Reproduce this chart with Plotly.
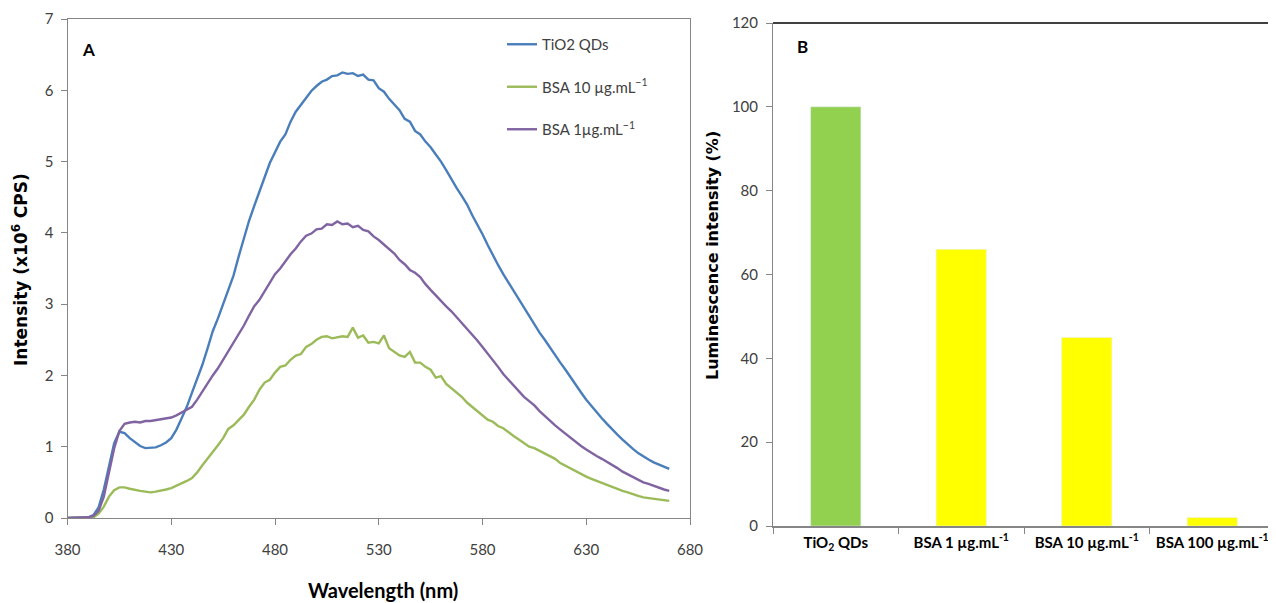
import plotly.graph_objects as go

# ---------------- Data ----------------
# emission spectra sampled every 2.5 nm from 380 to 670 nm
wavelength = [380 + 2.5 * i for i in range(117)]

tio2_qds = [
    0.00, 0.00, 0.00, 0.00, 0.01, 0.04, 0.15, 0.40, 0.75, 1.05,   # 380-402.5
    1.21, 1.19, 1.12, 1.06, 1.01, 0.98, 0.98, 0.99, 1.02, 1.06,   # 405-427.5
    1.12, 1.24, 1.40, 1.56, 1.76, 1.95, 2.15, 2.38, 2.62, 2.80,   # 430-452.5
    3.00, 3.20, 3.40, 3.67, 3.92, 4.17, 4.38, 4.57, 4.78, 4.98,   # 455-477.5
    5.14, 5.28, 5.38, 5.56, 5.70, 5.80, 5.90, 5.99, 6.06, 6.12,   # 480-502.5
    6.15, 6.20, 6.21, 6.25, 6.23, 6.24, 6.20, 6.22, 6.15, 6.14,   # 505-527.5
    6.03, 5.98, 5.88, 5.80, 5.72, 5.60, 5.56, 5.43, 5.38, 5.28,   # 530-552.5
    5.20, 5.10, 5.00, 4.88, 4.75, 4.63, 4.52, 4.40, 4.25, 4.12,   # 555-577.5
    3.98, 3.83, 3.68, 3.55, 3.42, 3.30, 3.18, 3.06, 2.95, 2.82,   # 580-602.5
    2.70, 2.60, 2.50, 2.39, 2.28, 2.18, 2.08, 1.97, 1.86, 1.76,   # 605-627.5
    1.66, 1.57, 1.48, 1.40, 1.32, 1.24, 1.17, 1.10, 1.03, 0.97,   # 630-652.5
    0.91, 0.86, 0.82, 0.78, 0.75, 0.72, 0.69]                     # 655-670

bsa_10 = [
    0.00, 0.00, 0.00, 0.00, 0.00, 0.01, 0.06, 0.16, 0.30, 0.39,
    0.43, 0.43, 0.41, 0.39, 0.38, 0.37, 0.36, 0.37, 0.38, 0.40,
    0.42, 0.45, 0.49, 0.52, 0.56, 0.64, 0.74, 0.83, 0.93, 1.02,
    1.12, 1.25, 1.30, 1.38, 1.45, 1.56, 1.66, 1.80, 1.90, 1.94,
    2.04, 2.12, 2.14, 2.22, 2.28, 2.30, 2.40, 2.44, 2.50, 2.54,
    2.55, 2.52, 2.53, 2.55, 2.54, 2.67, 2.53, 2.56, 2.46, 2.47,
    2.45, 2.56, 2.38, 2.33, 2.28, 2.26, 2.33, 2.18, 2.18, 2.12,
    2.08, 1.97, 1.99, 1.88, 1.82, 1.76, 1.70, 1.62, 1.56, 1.50,
    1.44, 1.38, 1.35, 1.29, 1.26, 1.20, 1.15, 1.10, 1.05, 1.00,
    0.98, 0.94, 0.90, 0.87, 0.83, 0.77, 0.73, 0.69, 0.65, 0.61,
    0.58, 0.55, 0.52, 0.49, 0.46, 0.43, 0.41, 0.38, 0.36, 0.33,
    0.31, 0.29, 0.28, 0.27, 0.26, 0.25, 0.24]

bsa_1 = [
    0.00, 0.00, 0.00, 0.00, 0.01, 0.03, 0.10, 0.30, 0.62, 0.98,
    1.22, 1.32, 1.34, 1.35, 1.34, 1.36, 1.36, 1.37, 1.38, 1.39,
    1.41, 1.44, 1.48, 1.51, 1.56, 1.66, 1.78, 1.89, 2.00, 2.10,
    2.22, 2.33, 2.45, 2.56, 2.70, 2.84, 2.97, 3.06, 3.18, 3.32,
    3.42, 3.50, 3.60, 3.70, 3.78, 3.88, 3.96, 3.99, 4.05, 4.06,
    4.12, 4.11, 4.16, 4.12, 4.13, 4.08, 4.10, 4.04, 4.02, 3.95,
    3.90, 3.84, 3.78, 3.71, 3.62, 3.56, 3.48, 3.44, 3.38, 3.28,
    3.20, 3.12, 3.05, 2.97, 2.90, 2.82, 2.74, 2.66, 2.58, 2.49,
    2.40, 2.31, 2.22, 2.12, 2.02, 1.94, 1.86, 1.78, 1.70, 1.64,
    1.58, 1.50, 1.43, 1.36, 1.30, 1.24, 1.18, 1.12, 1.06, 1.01,
    0.96, 0.91, 0.87, 0.83, 0.79, 0.74, 0.70, 0.65, 0.61, 0.57,
    0.53, 0.50, 0.48, 0.45, 0.43, 0.40, 0.38]

bar_categories = ["<b>TiO<sub>2</sub> QDs</b>", "<b>BSA 1 µg.mL<sup>-1</sup></b>",
                  "<b>BSA 10 µg.mL<sup>-1</sup></b>", "<b>BSA 100 µg.mL<sup>-1</sup></b>"]
bar_values = [100, 66, 45, 2]
bar_colors = ["#92D050", "#FFFF00", "#FFFF00", "#FFFF00"]

x_ticks_a = [380, 430, 480, 530, 580, 630, 680]

# ---------------- Figure ----------------
FONT = "Lato, 'Open Sans', sans-serif"
WIDE = "'DejaVu Sans', sans-serif"
OFF = 8                      # default page body margin
W, H = 1276 - OFF, 603 - OFF


def px(x):
    return (x - OFF) / W


def py(y):
    return 1 - (y - OFF) / H


fig = go.Figure()

series = [("TiO2 QDs", tio2_qds, "#4A7EBB"),
          ("BSA 10 µg.mL<sup>−1</sup>", bsa_10, "#9BBB59"),
          ("BSA 1µg.mL<sup>−1</sup>", bsa_1, "#8064A2")]
for i, (name, vals, col) in enumerate(series):
    fig.add_trace(go.Scatter(x=wavelength[:len(vals)], y=vals, mode="lines",
                             name=name, line=dict(color=col, width=2.4),
                             legendgroup=f"g{i}",
                             xaxis="x", yaxis="y"))

fig.add_trace(go.Bar(x=bar_categories, y=bar_values, marker_color=bar_colors,
                     width=0.4, showlegend=False, xaxis="x2", yaxis="y2"))

axis_grey = "#868686"
tick_font = dict(family=FONT, size=15, color="#404040")

fig.update_layout(
    width=W, height=H,
    margin=dict(l=0, r=0, t=0, b=0),
    paper_bgcolor="white", plot_bgcolor="white",
    font=dict(family=FONT, color="#404040"),
    xaxis=dict(domain=[px(67.5), px(690)], range=[380, 680],
               tickvals=x_ticks_a, ticks="outside", ticklen=6,
               tickcolor=axis_grey, showline=True, linecolor=axis_grey,
               linewidth=1, mirror=True, showgrid=False, zeroline=False,
               tickfont=tick_font, anchor="y", automargin=False,
               ticklabelstandoff=12),
    yaxis=dict(domain=[py(518), py(19)], range=[0, 7], dtick=1,
               ticks="outside", ticklen=6, tickcolor=axis_grey,
               showline=True, linecolor=axis_grey, linewidth=1, mirror=True,
               showgrid=False, zeroline=False, tickfont=tick_font,
               anchor="x", automargin=False, ticklabelstandoff=4),
    xaxis2=dict(domain=[px(773), px(1275)], type="category",
                tickson="boundaries", ticks="outside", ticklen=6,
                tickcolor=axis_grey, showline=True, linecolor=axis_grey,
                linewidth=1.5, showgrid=False, zeroline=False,
                tickfont=dict(family=FONT, size=15, color="black"),
                anchor="y2", automargin=False, ticklabelstandoff=2),
    yaxis2=dict(domain=[py(526), py(23)], range=[0, 120], dtick=20,
                ticks="outside", ticklen=6, tickcolor=axis_grey,
                showline=True, linecolor=axis_grey, linewidth=1,
                showgrid=False, zeroline=False, tickfont=tick_font,
                anchor="x2", automargin=False, ticklabelstandoff=5),
    legend=dict(x=px(502), y=py(28), xanchor="left", yanchor="top",
                font=dict(family=FONT, size=15, color="#404040"),
                tracegroupgap=20, bgcolor="rgba(0,0,0,0)"),
    bargap=0.6,
)

# top and right black border of panel B
fig.add_shape(type="line", xref="paper", yref="paper",
              x0=px(773), x1=px(1275), y0=py(23), y1=py(23),
              line=dict(color="black", width=1.5))
fig.add_shape(type="line", xref="paper", yref="paper",
              x0=px(1275), x1=px(1275), y0=py(23), y1=py(526),
              line=dict(color="black", width=1.5))


def label(text, x, y, size, angle=0, family=FONT):
    fig.add_annotation(text=text, x=px(x), y=py(y), xref="paper",
                       yref="paper", showarrow=False, textangle=angle,
                       xanchor="center", yanchor="middle",
                       font=dict(family=family, size=size, color="black"))


label("<b>A</b>", 88, 50, 17)
label("<b>B</b>", 802, 47, 17)
label("<b>Intensity (x10<sup>6</sup> CPS)</b>", 20, 270, 17, -90, WIDE)
label("<b>Wavelength (nm)</b>", 383, 590, 20)
label("<b>Luminescence intensity (%)</b>", 712, 256, 16, -90, WIDE)

fig.write_html("out.html")
